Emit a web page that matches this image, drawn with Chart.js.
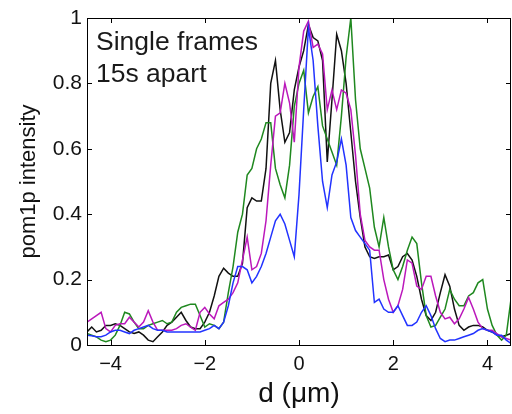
<!DOCTYPE html>
<html lang="en">
<head>
    <meta charset="UTF-8" />
    <title>pom1p profiles</title>
    <script src="https://cdn.jsdelivr.net/npm/chart.js"></script>
    <style>
        body { margin: 0; background: #fff; }
        #box { width: 512px; height: 414px; }
    </style>
</head>
<body>
    <div id="box"><canvas id="perfil"></canvas></div>

<script>
    // posicao ao longo da celula (um) - passo de 0.1
    const xs = [
        -4.5, -4.4, -4.3, -4.2, -4.1, -4.0, -3.9, -3.8, -3.7, -3.6,
        -3.5, -3.4, -3.3, -3.2, -3.1, -3.0, -2.9, -2.8, -2.7, -2.6,
        -2.5, -2.4, -2.3, -2.2, -2.1, -2.0, -1.9, -1.8, -1.7, -1.6,
        -1.5, -1.4, -1.3, -1.2, -1.1, -1.0, -0.9, -0.8, -0.7, -0.6,
        -0.5, -0.4, -0.3, -0.2, -0.1, 0.0, 0.1, 0.2, 0.3, 0.4,
        0.5, 0.6, 0.7, 0.8, 0.9, 1.0, 1.1, 1.2, 1.3, 1.4,
        1.5, 1.6, 1.7, 1.8, 1.9, 2.0, 2.1, 2.2, 2.3, 2.4,
        2.5, 2.6, 2.7, 2.8, 2.9, 3.0, 3.1, 3.2, 3.3, 3.4,
        3.5, 3.6, 3.7, 3.8, 3.9, 4.0, 4.1, 4.2, 4.3, 4.4,
        4.5
    ];

    const preto = [
        0.04, 0.055, 0.04, 0.045, 0.06, 0.06, 0.065, 0.06, 0.05, 0.04,
        0.035, 0.04, 0.03, 0.015, 0.01, 0.025, 0.04, 0.06, 0.07, 0.085,
        0.1, 0.075, 0.055, 0.05, 0.05, 0.07, 0.1, 0.15, 0.21, 0.235,
        0.22, 0.21, 0.21, 0.25, 0.42, 0.45, 0.44, 0.44, 0.54, 0.8,
        0.87, 0.72, 0.62, 0.65, 0.78, 0.85, 0.9, 0.98, 0.94, 0.93,
        0.87, 0.56, 0.75, 0.95, 0.9, 0.8, 0.65, 0.5, 0.39, 0.3,
        0.27, 0.265, 0.27, 0.27, 0.275, 0.23, 0.24, 0.27, 0.28, 0.26,
        0.21, 0.14, 0.09, 0.075, 0.1, 0.16, 0.215, 0.18, 0.11, 0.06,
        0.045, 0.055, 0.06, 0.06, 0.055, 0.045, 0.04, 0.03, 0.025, 0.03,
        0.035
    ];

    const magenta = [
        0.07, 0.08, 0.09, 0.1, 0.05, 0.04, 0.06, 0.065, 0.065, 0.085,
        0.07, 0.055, 0.07, 0.105, 0.07, 0.045, 0.045, 0.045, 0.045, 0.05,
        0.06, 0.065, 0.055, 0.045, 0.1, 0.115, 0.095, 0.08, 0.12, 0.13,
        0.14, 0.16, 0.19, 0.26, 0.33, 0.23, 0.24, 0.28, 0.38, 0.55,
        0.7, 0.71, 0.8, 0.74, 0.62, 0.85, 0.96, 0.99, 0.91, 0.92,
        0.89, 0.72, 0.78, 0.72, 0.78, 0.77, 0.72, 0.58, 0.4, 0.32,
        0.3, 0.29, 0.29, 0.2, 0.14, 0.1, 0.12, 0.17, 0.26, 0.25,
        0.18, 0.17, 0.21, 0.21, 0.15, 0.1, 0.08, 0.085, 0.065, 0.08,
        0.11, 0.145, 0.11, 0.07, 0.05, 0.045, 0.045, 0.035, 0.025, 0.02,
        0.015
    ];

    const verde = [
        0.035, 0.03, 0.025, 0.015, 0.01, 0.015, 0.03, 0.06, 0.1, 0.095,
        0.07, 0.05, 0.05, 0.06, 0.065, 0.07, 0.075, 0.065, 0.07, 0.1,
        0.115, 0.12, 0.125, 0.125, 0.09, 0.055, 0.065, 0.06, 0.05, 0.07,
        0.16, 0.24, 0.345, 0.4, 0.52, 0.54, 0.6, 0.63, 0.68, 0.68,
        0.54, 0.49, 0.45, 0.55, 0.73, 0.8, 0.84, 0.71, 0.76, 0.79,
        0.67, 0.63, 0.59, 0.55, 0.7, 0.88, 1.0, 0.75, 0.6, 0.54,
        0.48, 0.36, 0.3, 0.39, 0.3, 0.23, 0.2, 0.24, 0.29, 0.33,
        0.31, 0.19, 0.09, 0.055, 0.06, 0.085, 0.11, 0.17, 0.14, 0.12,
        0.12, 0.15, 0.16, 0.19, 0.2, 0.11, 0.06, 0.03, 0.015, 0.03,
        0.14
    ];

    const azul = [
        0.03, 0.028, 0.025, 0.025, 0.03, 0.04, 0.045, 0.045, 0.04, 0.035,
        0.045, 0.05, 0.055, 0.06, 0.05, 0.045, 0.045, 0.04, 0.04, 0.04,
        0.04, 0.04, 0.04, 0.04, 0.04, 0.045, 0.05, 0.06, 0.05, 0.07,
        0.12, 0.19, 0.24, 0.24, 0.23, 0.19, 0.21, 0.24, 0.28, 0.33,
        0.38, 0.4, 0.37, 0.32, 0.27, 0.46, 0.72, 0.97, 0.87, 0.67,
        0.5, 0.42, 0.52, 0.56, 0.63, 0.55, 0.39, 0.35, 0.33, 0.31,
        0.29, 0.13, 0.14, 0.11, 0.1, 0.1, 0.12, 0.09, 0.06, 0.06,
        0.07, 0.1, 0.12, 0.09, 0.05, 0.02, 0.01, 0.015, 0.015, 0.02,
        0.025, 0.03, 0.035, 0.045, 0.05, 0.045, 0.04, 0.03, 0.03, 0.015,
        0.005
    ];

    const ticksX = [-4, -2, 0, 2, 4];
    const ticksY = [0, 0.2, 0.4, 0.6, 0.8, 1];
    const textoCaixa = ['Single frames', '15s apart'];

    const fonte = '"Liberation Sans", Arial, Helvetica, sans-serif';

    function pontos(ys) {
        return xs.map((x, i) => ({ x: x, y: ys[i] }));
    }

    function serie(ys, cor, ordem) {
        return {
            data: pontos(ys),
            borderColor: cor,
            backgroundColor: cor,
            borderWidth: 1.5,
            pointRadius: 0,
            tension: 0,
            fill: false,
            order: ordem
        };
    }

    // moldura, ticks para dentro e texto do canto
    const moldura = {
        id: 'moldura',
        afterDraw(chart) {
            const ctx = chart.ctx;
            const a = chart.chartArea;
            const sx = chart.scales.x;
            const sy = chart.scales.y;
            const t = 5;
            ctx.save();
            ctx.strokeStyle = '#000';
            ctx.lineWidth = 1;
            ctx.strokeRect(a.left + 0.5, a.top + 0.5, a.right - a.left - 1, a.bottom - a.top);
            ctx.beginPath();
            ticksX.forEach(v => {
                const px = Math.round(sx.getPixelForValue(v)) + 0.5;
                ctx.moveTo(px, a.bottom); ctx.lineTo(px, a.bottom - t);
                ctx.moveTo(px, a.top); ctx.lineTo(px, a.top + t);
            });
            ticksY.forEach(v => {
                const py = Math.round(sy.getPixelForValue(v)) + 0.5;
                ctx.moveTo(a.left, py); ctx.lineTo(a.left + t, py);
                ctx.moveTo(a.right, py); ctx.lineTo(a.right - t, py);
            });
            ctx.stroke();

            ctx.fillStyle = '#1a1a1a';
            ctx.font = '26.5px ' + fonte;
            ctx.textAlign = 'left';
            ctx.textBaseline = 'alphabetic';
            ctx.fillText(textoCaixa[0], a.left + 9, a.top + 32);
            ctx.fillText(textoCaixa[1], a.left + 9, a.top + 64);
            ctx.restore();
        }
    };

    const grafico = new Chart(document.getElementById('perfil'), {
        type: 'line',
        data: {
            datasets: [
                serie(preto, '#111111', 3),
                serie(magenta, '#bb18bb', 1),
                serie(verde, '#1f881f', 2),
                serie(azul, '#2233ff', 0)
            ]
        },
        options: {
            responsive: true,
            maintainAspectRatio: false,
            animation: false,
            layout: { padding: { top: 18, right: 1, left: 0, bottom: 0 } },
            plugins: {
                legend: { display: false },
                tooltip: { enabled: false }
            },
            scales: {
                x: {
                    type: 'linear',
                    min: -4.5,
                    max: 4.5,
                    grid: { display: false, drawTicks: false },
                    border: { display: false },
                    afterBuildTicks: (s) => { s.ticks = ticksX.map(v => ({ value: v })); },
                    afterFit: (s) => { s.height = 69; },
                    ticks: {
                        color: '#111',
                        padding: 7,
                        maxRotation: 0,
                        font: { family: fonte, size: 20 },
                        callback: (v) => (v < 0 ? '\u2212' + Math.abs(v) : String(v))
                    },
                    title: {
                        display: true,
                        text: 'd (\u03bcm)',
                        color: '#111',
                        font: { family: fonte, size: 28 },
                        padding: { top: 0, bottom: 3 }
                    }
                },
                y: {
                    min: 0,
                    max: 1,
                    grid: { display: false, drawTicks: false },
                    border: { display: false },
                    afterBuildTicks: (s) => { s.ticks = ticksY.map(v => ({ value: v })); },
                    afterFit: (s) => { s.width = 87; },
                    ticks: {
                        color: '#111',
                        padding: 5,
                        font: { family: fonte, size: 21 },
                        callback: (v) => String(v)
                    },
                    title: {
                        display: true,
                        text: 'pom1p intensity',
                        color: '#111',
                        font: { family: fonte, size: 22 },
                        padding: { top: 16, bottom: 0 }
                    }
                }
            }
        },
        plugins: [moldura]
    });
</script>
</body>
</html>
